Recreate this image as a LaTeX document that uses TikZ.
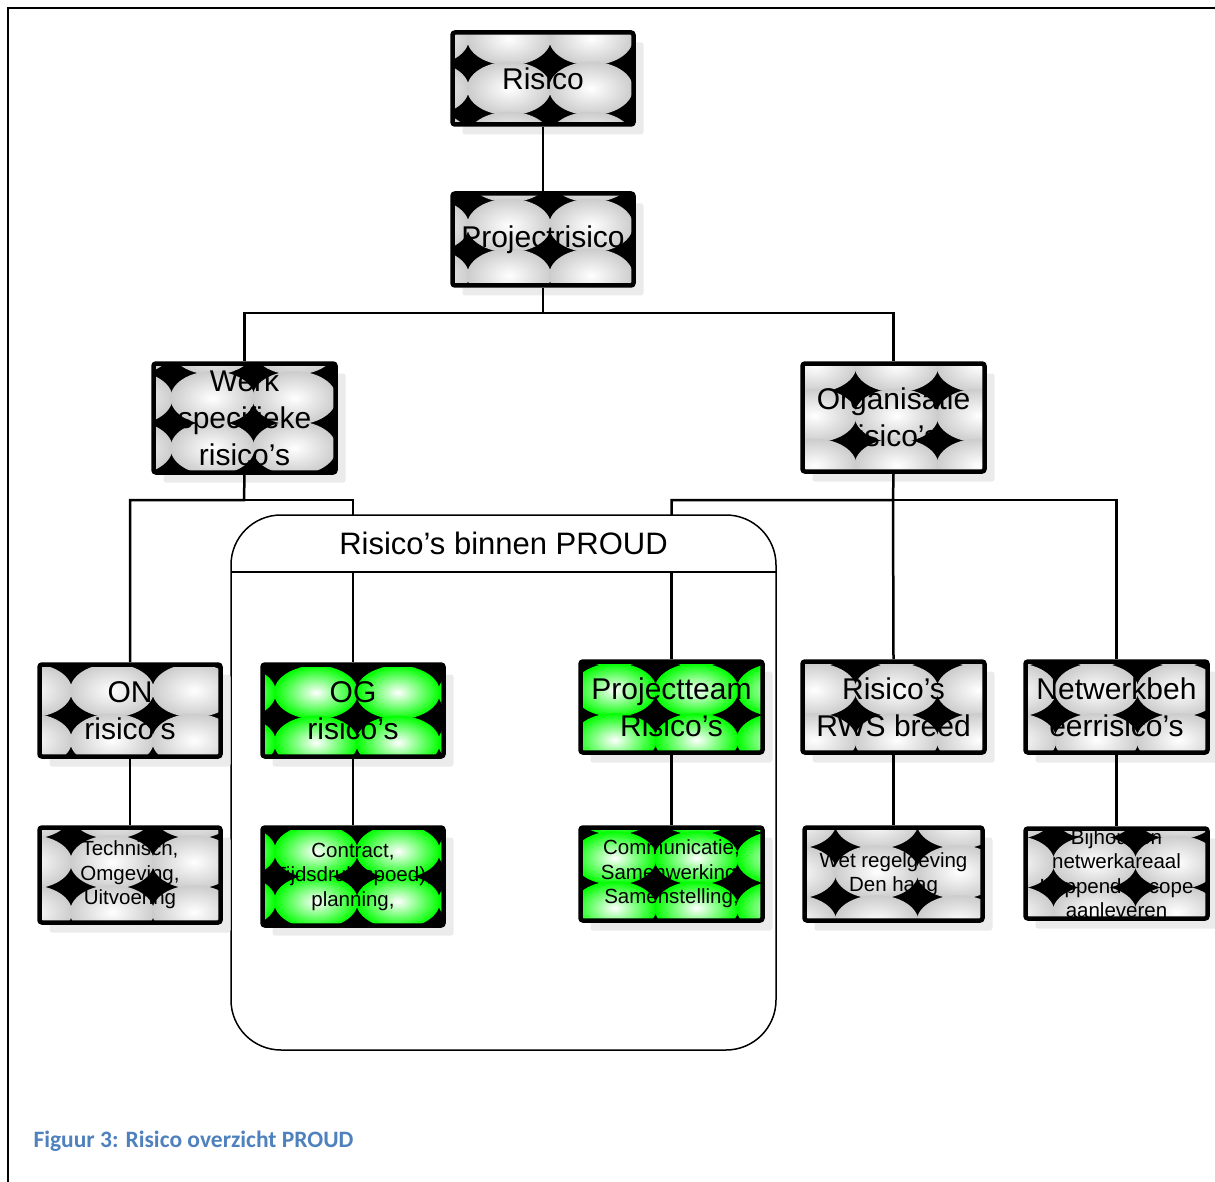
\documentclass[tikz,border=0pt]{standalone}
\usepackage{fontspec}
\setmainfont{Liberation Sans}
\newfontfamily\capfont{Carlito}
\usepackage{tikz}
\usetikzlibrary{positioning, shadows}
\definecolor{capblue}{HTML}{4F81BD}
\definecolor{shadowgray}{HTML}{EBEBEB}

% pattern of the boxes: shaded ellipses on black
\tikzset{
  patcol/.store in=\patcol, patdx/.store in=\patdx, patdy/.store in=\patdy,
  patcol=gray!40, patdx=0, patdy=0,
  riskbox/.style={draw=black, line width=4.5pt, rounded corners=2.5pt, fill=black,
    inner sep=0pt, minimum width=181pt, minimum height=92pt, align=center,
    drop shadow={shadow xshift=10pt, shadow yshift=-10pt, fill=shadowgray, opacity=1},
    path picture={
      \foreach \ii in {-2,...,2}{
        \foreach \jj in {-2,...,2}{
          \shade[inner color=white, outer color=\patcol]
            ([shift={(\ii*82+\patdx,\jj*50+\patdy)}]path picture bounding box.center)
            ellipse (42 and 26.8);
        }
      }
    }},
  greenbox/.style={riskbox, patcol=green},
  bigtxt/.style={font=\fontsize{30}{37}\selectfont},
  smalltxt/.style={font=\fontsize{20.5}{24.5}\selectfont},
  link/.style={line width=2.5pt}
}

\begin{document}
\begin{tikzpicture}[x=1pt, y=-1pt]
\useasboundingbox (0,0) rectangle (1215,1182);

% frame
\draw[line width=2pt] (8,1182) -- (8,8) -- (1215,8);

% bus points
\coordinate (busA) at (543,313);
\coordinate (busB) at (244,500);
\coordinate (busC) at (893,500);

% top levels
\node[riskbox, bigtxt, patdx=-34, patdy=10] (risico) at (543,78.5) {Risico};
\node[riskbox, bigtxt, patdx=-34, patdy=-14] (projrisico) at (543,239.5) {Projectrisico};
\node[riskbox, bigtxt, minimum height=109pt, minimum width=182pt, patdx=-32, patdy=-20] (werk) at (244.5,418) {Werk\\specifieke\\risico’s};
\node[riskbox, bigtxt, minimum height=108pt, minimum width=182pt, patdx=3, patdy=-2] (org) at (893.5,417.5) {Organisatie\\risico’s};

% connectors
\draw[link] (risico) -- (projrisico);
\draw[link] (projrisico.south) -- (busA) -| (werk.north);
\draw[link] (busA) -| (org.north);
\draw[link] (werk.south) -- (busB) -| (130,662);
\draw[link] (busB) -| (353,662);
\draw[link] (org.south) -- (busC) -| (671.5,659);
\draw[link] (busC) -| (1116.5,659);
\draw[link] (busC) -- (893.5,659);

% container
\begin{scope}
  \clip[rounded corners=50pt] (231,515) rectangle (776,1050);
  \fill[white] (231,515) rectangle (776,572);
\end{scope}
\draw[line width=1.5pt, rounded corners=50pt] (231,515) rectangle (776,1050);
\draw[line width=1.5pt] (231,572) -- (776,572);
\node[font=\fontsize{31}{37}\selectfont] (proudtitle) at (503.5,543) {Risico’s binnen PROUD};
\draw[link] (353,572) -- (353,662);
\draw[link] (671.5,572) -- (671.5,659);

% third level
\node[riskbox, bigtxt, patdx=-18, patdy=-20] (on) at (130,710.5) {ON\\risico’s};
\node[greenbox, bigtxt, patdx=-37, patdy=-18] (og) at (353,710.5) {OG\\risico’s};
\node[greenbox, bigtxt, minimum width=182pt, minimum height=91pt, patdx=25, patdy=-17] (ptteam) at (671.5,707) {Projectteam\\Risico’s};
\node[riskbox, bigtxt, minimum width=182pt, minimum height=91pt, patdx=3, patdy=-17] (rws) at (893.5,707) {Risico’s\\RWS breed};
\node[riskbox, bigtxt, minimum width=182pt, minimum height=91pt, patdx=-20, patdy=-17] (netwerk) at (1116.5,707) {Netwerkbeh\\eerrisico’s};

% fourth level
\node[riskbox, smalltxt, minimum height=95pt, patdx=-18, patdy=-13] (techn) at (130,875) {Technisch,\\Omgeving,\\Uitvoering};
\node[greenbox, smalltxt, minimum height=98pt, patdx=-37, patdy=-25] (contract) at (353,876.5) {Contract,\\Tijdsdruk(spoed),\\planning,};
\node[greenbox, smalltxt, minimum width=182pt, minimum height=93pt, patdx=25, patdy=-16] (comm) at (671.5,874) {Communicatie,\\Samenwerking,\\Samenstelling,};
\node[riskbox, smalltxt, minimum width=178pt, minimum height=93pt, patdx=-17, patdy=-2] (wet) at (893.5,874) {Wet regelgeving\\Den haag};
\node[riskbox, smalltxt, minimum width=182pt, minimum height=90pt, patdx=-22, patdy=-11] (bijh) at (1116.5,873.5) {Bijhouden\\netwerkareaal\\Koppende scope\\aanleveren};

\draw[link] (on) -- (techn);
\draw[link] (og) -- (contract);
\draw[link] (ptteam) -- (comm);
\draw[link] (rws) -- (wet);
\draw[link] (netwerk) -- (bijh);

% caption
\node[anchor=base west, text=capblue, font=\capfont\bfseries\fontsize{23.5}{28}\selectfont] (caption) at (30,1147) {Figuur 3: Risico overzicht PROUD};
\end{tikzpicture}
\end{document}
